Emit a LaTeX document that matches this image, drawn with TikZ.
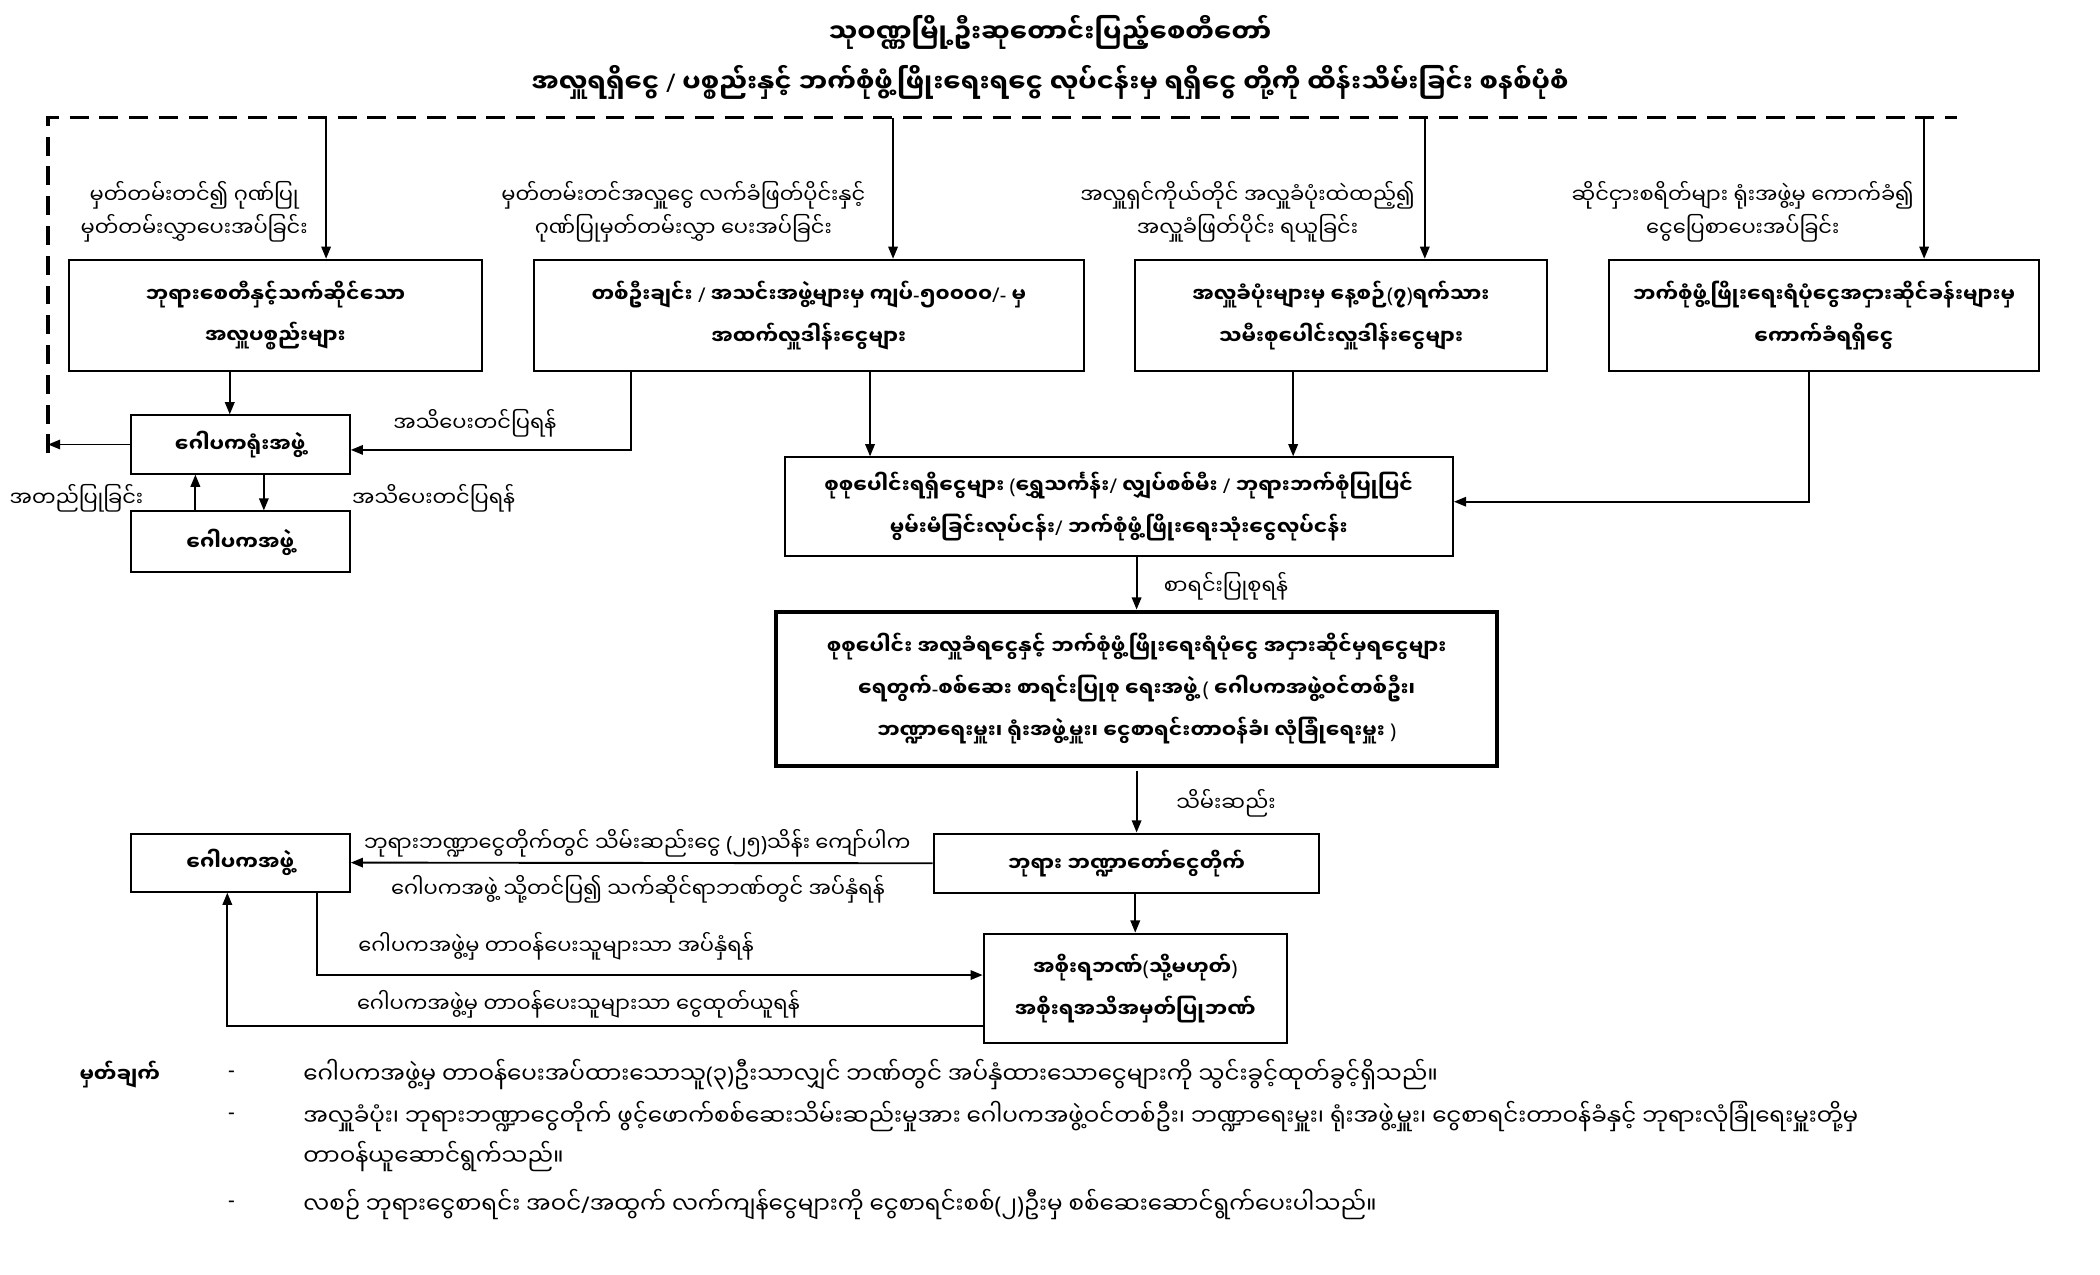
\documentclass[tikz,border=0pt]{standalone}
\usepackage{fontspec}
\usepackage{tikz}
\usetikzlibrary{arrows.meta}
\newfontfamily\mmfont[Script=Myanmar]{Noto Sans Myanmar UI}
\newfontfamily\latfont{Noto Sans}
\newcommand\mlp{{\latfont (}}
\newcommand\mrp{{\latfont )}}
\newcommand\msl{{\latfont /}}
\newcommand\mdh{{\latfont -}}

\begin{document}
\begin{tikzpicture}[x=1pt,y=-1pt]
\tikzstyle{every node}+=[inner sep=0pt]
\tikzstyle{box}=[draw, line width=1.5pt, align=center, font=\mmfont\bfseries\fontsize{15}{31}\selectfont]
\tikzstyle{lbl}=[align=center, font=\mmfont\fontsize{15.5}{25}\selectfont]
\tikzstyle{note}=[anchor=west, font=\mmfont\fontsize{17}{20}\selectfont]
\tikzstyle{arr}=[line width=1.4pt, -{Triangle[length=9pt,width=7pt]}]
\useasboundingbox (0,0) rectangle (1552,942);
\node[font=\mmfont\bfseries\fontsize{19}{22}\selectfont] (title1) at (776,24) {သုဝဏ္ဏမြို့ဦးဆုတောင်းပြည့်စေတီတော်};
\node[font=\mmfont\bfseries\fontsize{19}{22}\selectfont] (title2) at (776,61) {အလှူရရှိငွေ \msl{} ပစ္စည်းနှင့် ဘက်စုံဖွံ့ဖြိုးရေးရငွေ လုပ်ငန်းမှ ရရှိငွေ တို့ကို ထိန်းသိမ်းခြင်း စနစ်ပုံစံ};
\coordinate (dbl) at (35.5,335);
\coordinate (dtl) at (35.5,87);
\coordinate (dtr) at (1446,87);
\draw[line width=2.5pt, dash pattern=on 14pt off 8pt] (dbl) -- (dtl) -- (dtr);
\node[box, minimum width=305, minimum height=82] (B1) at (203.5,233) {ဘုရားစေတီနှင့်သက်ဆိုင်သော\\အလှူပစ္စည်းများ};
\node[box, minimum width=406.5, minimum height=82] (B2) at (597.75,233) {တစ်ဦးချင်း \msl{} အသင်းအဖွဲ့များမှ ကျပ်\mdh ၅၀၀၀၀\msl\mdh{} မှ\\အထက်လှူဒါန်းငွေများ};
\node[box, minimum width=304, minimum height=82] (B3) at (991,233) {အလှူခံပုံးများမှ နေ့စဉ်\mlp ၇\mrp ရက်သား\\သမီးစုပေါင်းလှူဒါန်းငွေများ};
\node[box, minimum width=318, minimum height=82] (B4) at (1348,233) {ဘက်စုံဖွံ့ဖြိုးရေးရံပုံငွေအငှားဆိုင်ခန်းများမှ\\ကောက်ခံရရှိငွေ};
\node[lbl] (l1) at (143.5,156.5) {မှတ်တမ်းတင်၍ ဂုဏ်ပြု\\မှတ်တမ်းလွှာပေးအပ်ခြင်း};
\node[lbl] (l2) at (505,156.5) {မှတ်တမ်းတင်အလှူငွေ လက်ခံဖြတ်ပိုင်းနှင့်\\ဂုဏ်ပြုမှတ်တမ်းလွှာ ပေးအပ်ခြင်း};
\node[lbl] (l3) at (922,156.5) {အလှူရှင်ကိုယ်တိုင် အလှူခံပုံးထဲထည့်၍\\အလှူခံဖြတ်ပိုင်း ရယူခြင်း};
\node[lbl] (l4) at (1288,156.5) {ဆိုင်ငှားစရိတ်များ ရုံးအဖွဲ့မှ ကောက်ခံ၍\\ငွေပြေစာပေးအပ်ခြင်း};
\coordinate (t1) at (241,87);
\coordinate (t2) at (660,87);
\coordinate (t3) at (1053,87);
\coordinate (t4) at (1422,87);
\draw[arr] (t1) -- (t1 |- B1.north);
\draw[arr] (t2) -- (t2 |- B2.north);
\draw[arr] (t3) -- (t3 |- B3.north);
\draw[arr] (t4) -- (t4 |- B4.north);
\node[box, minimum width=162, minimum height=43] (G1) at (177.5,328.5) {ဂေါပကရုံးအဖွဲ့};
\node[box, minimum width=162, minimum height=45] (G2) at (177.5,400.5) {ဂေါပကအဖွဲ့};
\coordinate (g1a) at ([xshift=-7.7pt]G1.north);
\coordinate (g1b) at ([xshift=-33.1pt]G1.south);
\coordinate (g1c) at ([xshift=17.5pt]G1.south);
\coordinate (g1d) at ([yshift=-4pt]G1.east);
\coordinate (b2a) at ([xshift=-131.35pt]B2.south);
\coordinate (b2b) at ([xshift=45.25pt]B2.south);
\coordinate (b3a) at ([xshift=-35.3pt]B3.south);
\coordinate (b4a) at ([xshift=-11.2pt]B4.south);
\draw[arr] (g1a |- B1.south) -- (g1a);
\draw[arr] (G1.west) -- (dbl |- G1.west);
\draw[arr] (b2a) |- (g1d);
\draw[arr] (g1b |- G2.north) -- (g1b);
\draw[arr] (g1c) -- (g1c |- G2.north);
\node[lbl] (l5) at (351,313) {အသိပေးတင်ပြရန်};
\node[lbl] (l6) at (56.5,368) {အတည်ပြုခြင်း};
\node[lbl] (l7) at (320.5,368) {အသိပေးတင်ပြရန်};
\node[box, minimum width=494, minimum height=73] (C1) at (826.8,374.5) {စုစုပေါင်းရရှိငွေများ \mlp ရွှေသင်္ကန်း\msl{} လျှပ်စစ်မီး \msl{} ဘုရားဘက်စုံပြုပြင်\\မွမ်းမံခြင်းလုပ်ငန်း\msl{} ဘက်စုံဖွံ့ဖြိုးရေးသုံးငွေလုပ်ငန်း};
\coordinate (c1a) at ([yshift=3.7pt]C1.east);
\draw[arr] (b2b) -- (b2b |- C1.north);
\draw[arr] (b3a) -- (b3a |- C1.north);
\draw[arr] (b4a) |- (c1a);
\node[box, line width=3pt, minimum width=533, minimum height=114] (C2) at (840,509) {စုစုပေါင်း အလှူခံရငွေနှင့် ဘက်စုံဖွံ့ဖြိုးရေးရံပုံငွေ အငှားဆိုင်မှရငွေများ\\ရေတွက်\mdh စစ်ဆေး စာရင်းပြုစု ရေးအဖွဲ့ \mlp{} ဂေါပကအဖွဲ့ဝင်တစ်ဦး၊\\ဘဏ္ဍာရေးမှူး၊ ရုံးအဖွဲ့မှူး၊ ငွေစာရင်းတာဝန်ခံ၊ လုံခြုံရေးမှူး \mrp};
\draw[arr] (C2.north |- C1.south) -- (C2.north);
\node[lbl] (l8) at (906,433) {စာရင်းပြုစုရန်};
\node[box, minimum width=285, minimum height=44] (C3) at (832.5,638) {ဘုရား ဘဏ္ဍာတော်ငွေတိုက်};
\draw[arr] ([yshift=-2pt]C2.south) -- (C2.south |- C3.north);
\node[lbl] (l9) at (906,594) {သိမ်းဆည်း};
\node[box, minimum width=224, minimum height=81] (C4) at (839,730.5) {အစိုးရဘဏ်\mlp သို့မဟုတ်\mrp\\အစိုးရအသိအမှတ်ပြုဘဏ်};
\draw[arr] (C4.north |- C3.south) -- (C4.north);
\node[box, minimum width=162, minimum height=43] (G3) at (177.5,637.5) {ဂေါပကအဖွဲ့};
\draw[arr] (C3.west) -- (G3.east);
\node[lbl] (l10) at (471,623) {ဘုရားဘဏ္ဍာငွေတိုက်တွင် သိမ်းဆည်းငွေ \mlp ၂၅\mrp သိန်း ကျော်ပါက};
\node[lbl] (l11) at (471.5,657) {ဂေါပကအဖွဲ့ သို့တင်ပြ၍ သက်ဆိုင်ရာဘဏ်တွင် အပ်နှံရန်};
\coordinate (g3a) at ([xshift=56.8pt]G3.south);
\coordinate (g3b) at ([xshift=-9.5pt]G3.south);
\coordinate (c4a) at ([yshift=9.9pt]C4.west);
\coordinate (c4b) at ([yshift=-28pt]C4.west);
\draw[arr] (g3a) |- (c4a);
\draw[arr] (c4b) -| (g3b);
\node[lbl] (l12) at (411,699) {ဂေါပကအဖွဲ့မှ တာဝန်ပေးသူများသာ အပ်နှံရန်};
\node[lbl] (l13) at (427.5,742) {ဂေါပကအဖွဲ့မှ တာဝန်ပေးသူများသာ ငွေထုတ်ယူရန်};
\node[font=\mmfont\bfseries\fontsize{15}{18}\selectfont] (n0) at (88.5,794) {မှတ်ချက်};
\node[lbl] (d1) at (171,794) {\mdh};
\node[lbl] (d2) at (171,825) {\mdh};
\node[lbl] (d3) at (171,890) {\mdh};
\node[note] (n1) at (224,794) {ဂေါပကအဖွဲ့မှ တာဝန်ပေးအပ်ထားသောသူ\mlp ၃\mrp ဦးသာလျှင် ဘဏ်တွင် အပ်နှံထားသောငွေများကို သွင်းခွင့်ထုတ်ခွင့်ရှိသည်။};
\node[note] (n2) at (224,825) {အလှူခံပုံး၊ ဘုရားဘဏ္ဍာငွေတိုက် ဖွင့်ဖောက်စစ်ဆေးသိမ်းဆည်းမှုအား ဂေါပကအဖွဲ့ဝင်တစ်ဦး၊ ဘဏ္ဍာရေးမှူး၊ ရုံးအဖွဲ့မှူး၊ ငွေစာရင်းတာဝန်ခံနှင့် ဘုရားလုံခြုံရေးမှူးတို့မှ};
\node[note] (n3) at (224,855) {တာဝန်ယူဆောင်ရွက်သည်။};
\node[note] (n4) at (224,890) {လစဉ် ဘုရားငွေစာရင်း အဝင်\msl အထွက် လက်ကျန်ငွေများကို ငွေစာရင်းစစ်\mlp ၂\mrp ဦးမှ စစ်ဆေးဆောင်ရွက်ပေးပါသည်။};
\end{tikzpicture}
\end{document}
